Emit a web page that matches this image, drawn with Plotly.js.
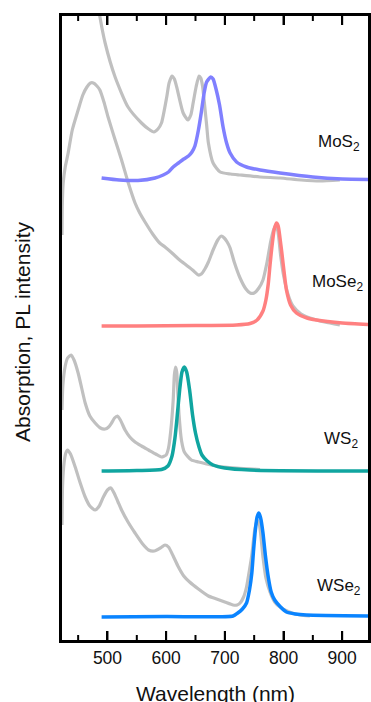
<!DOCTYPE html>
<html>
<head>
<meta charset="utf-8">
<script src="https://cdn.plot.ly/plotly-3.0.1.min.js"></script>
<style>
html,body{margin:0;padding:0;background:#fff;}
#chart{width:371px;height:702px;}
</style>
</head>
<body>
<div id="chart"></div>
<script>
// Wavelength (nm) and intensity (arb. units, stacked offsets as in the figure)
const mos2AbsWl = [484,486,496,513,535,558,570,579,586,592,601,605,610,614,618,629,637,642,646,651,656,659,662,665,669,672,680,692,710,726,760,794,830,862,896];
const mos2Abs   = [637,629,599,565,535,519,513,510,513,519,545,559,566,563,555,529,522,527,539,555,566,564,556,540,517,499,479,470,468,467,465,464,462,461,462];

const mos2PlWl = [490,520,552,581,595,604,612,621,630,638,644,649,655,660,665,669,676,680,685,691,697,703,709,720,737,760,794,850,900,944];
const mos2Pl   = [464,462,461.5,464,467,470,475,479,483,486,490,496,512,530,550,560,565,563,553,537,515,499,489,480,475,472,469,465,463,462.5];

const mose2AbsWl = [422.5,423,424.5,428,433,440,450,458,465,471,476,482,487,494,501,512,524,535,547,555,564,577,589,598,610,623,632,645,655,660,666,672,680,688,694,699,704,709,716,726,736,743,750,758,765,772,778,783,786,790,795,800,808,816,830,845,870,896];
const mose2Abs   = [407,437,459,475,489,512,532,547,555,559,559,556,552,540,525,504,482,460,439,429,420,408,399,395,389,382,378,372,367,368,373,380,392,402,406,404,400,394,380,364,353,349,349,354,362,380,400,412,416,412,387,367,347,336,328,324,320,317];

const mose2PlWl = [490,550,650,720,743,755,765,770,774,777,780,784,788,791,794,797,801,805,812,822,840,856,900,944];
const mose2Pl   = [316,316,316.5,317,318.5,322,331,342,358,377,394,412,419,416,404,390,370,352,337,329,324,322,319,317.5];

const ws2AbsWl = [422.5,424,428,432,438,443,450,456,462,470,479,488,496,502,507,512,517,522,530,538,547,558,570,582,592,600,604,608,612,614,616,618,620,622,626,631,643,655,666,686,720,760];
const ws2Abs   = [232,257,276,284,287,282,269,254,239,226,219,214,213,215,219,224,226,222,212,205,200,196,192,188,185,187,194,212,242,267,275,270,247,227,202,190,182,180,178.5,176,174,172.5];

const ws2PlWl = [490,550,592,603,610,615,619,623,627,631,635,640,645,650,656,661,670,680,700,743,944];
const ws2Pl   = [171,171.5,172.5,176,186,204,227,252,270,275,270,252,227,209,195,187,181,177,174,172,171];

const wse2AbsWl = [422.5,423.5,426,429,432,437,445,453,462,470,479,486,493,500,506,512,518,524,535,547,560,570,580,590,598,604,612,620,630,640,655,672,686,700,714,721,726,732,737,742,746,751,755,759,765,770,777,785,794,810,828,845];
const wse2Abs   = [117,157,179,189,192,188,175,160,145,136,132,136,145,152,154,148,140,132,120,109,98,92,91,94,97,95,86,76,66,60,53,46,43,40,37,37,39,45,55,72,87,112,122,117,85,64,50,40,35,30,27,26];

const wse2PlWl = [490,600,714,722,730,737,742,746,749,752,755,758,761,765,769,774,779,785,795,805,820,839,944];
const wse2Pl   = [25,25.5,26,29,33,39,52,69,92,112,125,129,124,109,87,65,50,42,35,30,28,27,26];

const majorTicks = [500,600,700,800,900];
const majorTickText = ['500','600','700','800','900'];
const minorTicks = [450,550,650,750,850];

const labelText = ['MoS<sub>2</sub>','MoSe<sub>2</sub>','WS<sub>2</sub>','WSe<sub>2</sub>'];
const labelX = [855,845,865,854];
const labelY = [499,359,202,55];

const xTitle = 'Wavelength (nm)';
const yTitle = 'Absorption, PL intensity';

const grey = '#c0c0c0';
const FONT = 'Arial';
const XRANGE = [422.5, 944];
const YRANGE = [2, 626];   // 624 units over 624 px of plot height

function line(x, y, color, width) {
  return {x: x, y: y, type: 'scatter', mode: 'lines',
          line: {color: color, width: width, shape: 'spline', smoothing: 0.6}};
}

// inward tick marks at bottom and top edges, drawn as short line segments through the x scale
function tickLines(vals, len) {
  const x = [], y = [];
  vals.forEach(v => {
    x.push(v, v, null, v, v, null);
    y.push(YRANGE[0], YRANGE[0] + len, null, YRANGE[1], YRANGE[1] - len, null);
  });
  return {x: x, y: y, type: 'scatter', mode: 'lines', connectgaps: false,
          line: {color: '#000', width: 2}};
}

const data = [
  line(mos2AbsWl, mos2Abs, grey, 3.2),
  line(mose2AbsWl, mose2Abs, grey, 3.2),
  line(ws2AbsWl, ws2Abs, grey, 3.2),
  line(wse2AbsWl, wse2Abs, grey, 3.2),
  line(mos2PlWl, mos2Pl, '#8080ff', 3.5),
  line(mose2PlWl, mose2Pl, '#ff8080', 3.5),
  line(ws2PlWl, ws2Pl, '#10a5a0', 3.5),
  line(wse2PlWl, wse2Pl, '#0a84ff', 3.5),
  tickLines(majorTicks, 9),
  tickLines(minorTicks, 5)
];

const annotations = labelText.map((t, i) => ({
  x: labelX[i], y: labelY[i], xref: 'x', yref: 'y', text: t, showarrow: false,
  xanchor: 'left', yanchor: 'middle', font: {family: FONT, size: 17, color: '#111'}
})).concat([
  {x: 0.5, y: -0.085, xref: 'paper', yref: 'paper', text: xTitle, showarrow: false,
   xanchor: 'center', yanchor: 'middle', font: {family: FONT, size: 21, color: '#111'}},
  {x: -0.127, y: 0.494, xref: 'paper', yref: 'paper', text: yTitle, showarrow: false, textangle: -90,
   xanchor: 'center', yanchor: 'middle', font: {family: FONT, size: 21, color: '#111'}}
]);

const layout = {
  width: 371, height: 702,
  margin: {l: 62, r: 3, t: 16, b: 62},
  showlegend: false,
  xaxis: {
    range: XRANGE,
    tickvals: majorTicks, ticktext: majorTickText,
    ticks: 'inside', ticklen: 9, tickwidth: 2, tickcolor: '#000',
    showline: true, linecolor: '#000', linewidth: 3, mirror: 'ticks',
    showgrid: false, zeroline: false,
    tickfont: {family: FONT, size: 17.5, color: '#111'}
  },
  yaxis: {
    range: YRANGE,
    showline: true, linecolor: '#000', linewidth: 3, mirror: true,
    showticklabels: false, showgrid: false, zeroline: false
  },
  annotations: annotations
};

Plotly.newPlot('chart', data, layout, {displayModeBar: false});
</script>
</body>
</html>
